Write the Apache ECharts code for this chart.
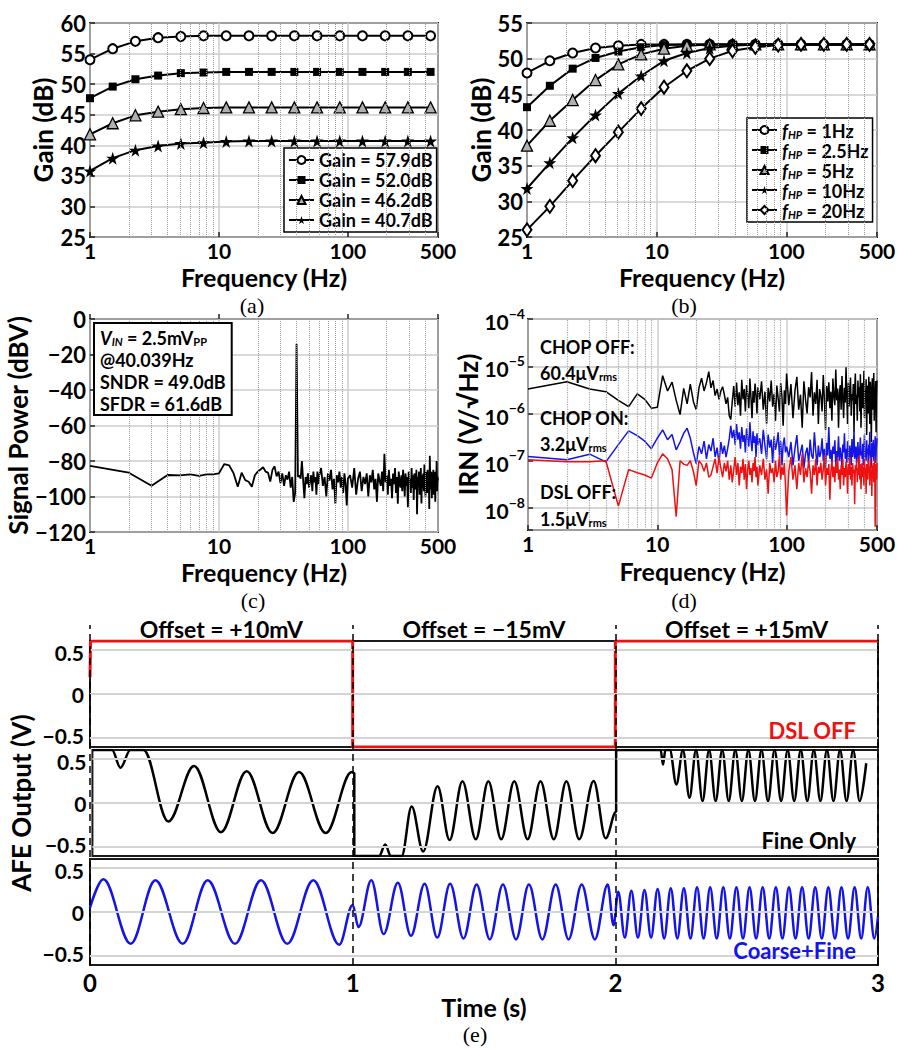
<!DOCTYPE html>
<html><head><meta charset="utf-8">
<script src="https://cdn.jsdelivr.net/npm/echarts@6/dist/echarts.min.js"></script>
<style>html,body{margin:0;padding:0;background:#fff}#c{width:908px;height:1050px}</style>
</head><body><div id="c"></div>
<script>
const FONT = 'Lato, "Open Sans", "Liberation Sans", sans-serif';
const SERIF = '"Liberation Serif", "DejaVu Serif", serif';
const BLUE = '#1414e8', RED = '#ee1111';

// ---------- (a) / (b): gain sweeps ----------
const sweepFreq = [1, 1.5, 2.25, 3.375, 5.063, 7.594, 11.39, 17.09, 25.63, 38.44, 57.67, 86.5, 129.7, 194.6, 291.9, 437.9];
const gain579 = [54.0, 55.8, 57.0, 57.6, 57.8, 57.9, 57.9, 57.9, 57.9, 57.9, 57.9, 57.9, 57.9, 57.9, 57.9, 57.9];
const gain520 = [47.7, 49.6, 50.8, 51.4, 51.8, 51.9, 52.0, 52.0, 52.0, 52.0, 52.0, 52.0, 52.0, 52.0, 52.0, 52.0];
const gain462 = [41.8, 43.6, 44.9, 45.5, 45.9, 46.1, 46.2, 46.2, 46.2, 46.2, 46.2, 46.2, 46.2, 46.2, 46.2, 46.2];
const gain407 = [35.8, 37.9, 39.2, 39.9, 40.3, 40.4, 40.6, 40.7, 40.7, 40.7, 40.7, 40.7, 40.7, 40.7, 40.7, 40.7];
const gainNames = ['Gain = 57.9dB', 'Gain = 52.0dB', 'Gain = 46.2dB', 'Gain = 40.7dB'];

const hp1  = [48.0, 49.7, 50.8, 51.5, 51.8, 52.0, 52.0, 52.0, 52.0, 52.0, 52.0, 52.0, 52.0, 52.0, 52.0, 52.0];
const hp25 = [43.2, 46.2, 48.6, 50.1, 51.0, 51.6, 51.9, 52.0, 52.0, 52.0, 52.0, 52.0, 52.0, 52.0, 52.0, 52.0];
const hp5  = [37.8, 41.3, 44.2, 47.0, 49.2, 50.6, 51.4, 51.8, 52.0, 52.0, 52.0, 52.0, 52.0, 52.0, 52.0, 52.0];
const hp10 = [31.8, 35.4, 38.9, 42.1, 45.1, 47.6, 49.7, 50.8, 51.5, 51.8, 52.0, 52.0, 52.0, 52.0, 52.0, 52.0];
const hp20 = [26.0, 29.3, 32.9, 36.4, 39.7, 43.0, 46.0, 48.3, 50.0, 51.1, 51.6, 51.9, 52.0, 52.0, 52.0, 52.0];
const hpNames = ['1Hz', '2.5Hz', '5Hz', '10Hz', '20Hz'];

// ---------- (c) / (d): spectra ----------
const fftFreq = [1,2,3,4,5,6,7,8,9,10,11,12,13,14,15,16,17,18,19,20,21,22,23,24,25,26,27,28,29,30,
31,32,33,34,35,36,37,38,39,40,41,42,43,44,45,46,47,48,49,50,51,52,53,54,55,56,57,58,59,60,
62,64,66,68,70,72,74,76,78,80,82,84,86,88,90,92,94,96,98,100,
104,108,112,116,120,124,128,132,136,140,144,148,152,156,160,164,168,172,176,180,
184,188,192,196,200,204,208,212,216,220,224,228,232,236,240,244,248,252,256,260,
264,268,272,276,280,284,288,292,296,300,304,308,312,316,320,324,328,332,336,340,
344,348,352,356,360,364,368,372,376,380,384,388,392,396,400,404,408,412,416,420,
424,428,432,436,440,444,448,452,456,460,464,468,472,476,480,484,488,492,496,500];

const spectrumDBV = [
-82.8,-86.6,-93.9,-87.9,-88.1,-87.5,-88.4,-87.5,-87.5,-87.0,
-81.7,-82.4,-87.0,-94.5,-86.6,-90.8,-91.7,-94.5,-88.0,-86.0,
-84.8,-83.5,-86.0,-86.5,-91.6,-85.0,-83.0,-88.7,-86.0,-92.5,
-87.0,-94.0,-88.0,-90.5,-86.0,-95.0,-89.0,-103.0,-98.0,-14.0,
-89.0,-88.0,-90.0,-80.0,-91.0,-101.0,-89.0,-93.0,-87.0,-95.0,
-91.0,-88.0,-97.0,-86.0,-92.0,-89.0,-99.0,-86.0,-93.0,-88.0,
-84,-94,-89,-100,-87,-91,-85,-96,-90,-104,-88,-92,-86,-95,-89,-98,-87,-93,-105,-90,
-88,-95,-84,-99,-90,-86,-97,-89,-93,-87,
-100,-88,-92,-85,-96,-90,-103,-87,-91,-94,
-86,-97,-76,-92,-88,-99,-85,-94,-90,-101,
-87,-93,-84,-98,-89,-104,-86,-92,-95,-88,
-97,-85,-91,-100,-87,-94,-89,-106,-86,-93,
-90,-98,-84,-95,-88,-102,-87,-92,-96,-85,
-110,-89,-93,-86,-99,-91,-84,-104,-88,-95,
-87,-97,-82,-93,-100,-86,-91,-98,-85,-94,
-89,-107,-77,-92,-96,-86,-101,-88,-93,-85,
-99,-90,-86,-103,-88,-94,-80,-97,-89,-91];

// input-referred noise, in uV/sqrt(Hz)
const irnChopOff = [
3.3,4.7,3.3,2.9,1.9,1.4,2.6,2.0,1.3,1.35,6.3,3.0,4.6,1.9,0.95,3.4,1.6,4.2,1.8,1.2,
3.5,5.6,3.0,4.5,7.7,3.5,5.0,2.4,3.3,2.0,3.0,3.7,2.5,1.6,2.2,0.9,0.75,1.8,3.8,1.4,
4.5,1.5,2.8,0.9,5.2,2.0,3.3,1.1,4.0,2.4,1.3,5.5,2.2,0.8,3.0,1.7,4.3,2.5,1.0,3.6,
2.0,4.8,1.2,2.9,0.6,3.5,1.8,5.0,1.4,2.6,0.7,3.9,2.1,1.1,4.4,2.3,0.55,3.1,1.6,7.0,
1.5,4.2,0.8,3.0,6.0,1.2,2.5,0.5,4.8,2.0,
1.0,3.6,2.2,7.5,0.9,2.8,1.6,5.2,0.6,3.3,
2.4,1.1,6.5,2.0,0.45,3.8,1.8,4.6,1.3,2.9,
0.7,5.5,2.3,1.5,8.5,1.9,3.4,0.5,2.7,4.0,
1.2,6.2,2.1,0.8,3.5,1.7,9.5,2.4,0.6,4.5,
1.4,3.0,5.8,0.9,2.6,1.9,4.2,0.4,3.1,7.0,
1.6,2.5,0.7,5.0,2.2,3.6,1.1,6.8,0.5,2.9,
4.4,1.3,2.0,8.0,0.8,3.2,1.8,5.3,0.35,2.6,
3.9,1.0,6.0,2.2,0.6,4.7,1.5,0.25,3.0,5.6,
1.2,2.8,7.2,0.7,3.5,1.9,4.9,0.4,2.4,5.0];
const irnChopOn = [
0.123,0.105,0.138,0.095,0.22,0.43,0.34,0.26,0.18,0.30,0.45,0.28,0.36,0.17,0.25,0.38,0.49,0.30,0.15,0.087,
0.20,0.14,0.26,0.11,0.22,0.16,0.30,0.12,0.19,0.09,0.25,0.14,0.21,0.12,0.18,0.29,0.55,0.30,0.45,0.22,
0.60,0.28,0.40,0.18,0.52,0.25,0.35,0.15,0.48,0.30,0.20,0.65,0.27,0.16,0.42,0.24,0.33,0.12,0.38,0.22,
0.30,0.14,0.45,0.21,0.11,0.36,0.19,0.28,0.09,0.33,0.17,0.24,0.40,0.13,0.26,0.08,0.22,0.31,0.15,0.20,
0.12,0.25,0.08,0.18,0.35,0.10,0.15,0.22,0.07,0.14,
0.19,0.09,0.28,0.13,0.11,0.40,0.16,0.08,0.21,0.12,
0.15,0.30,0.10,0.18,0.07,0.24,0.13,0.52,0.11,0.17,
0.09,0.20,0.14,0.27,0.08,0.16,0.12,0.33,0.10,0.19,
0.13,0.07,0.22,0.15,0.38,0.11,0.18,0.09,0.26,0.14,
0.10,0.21,0.16,0.08,0.29,0.12,0.17,0.45,0.11,0.15,
0.20,0.09,0.14,0.25,0.12,0.07,0.18,0.31,0.13,0.16,
0.11,0.23,0.08,0.17,0.36,0.12,0.15,0.10,0.27,0.14,
0.18,0.09,0.22,0.13,0.41,0.11,0.16,0.07,0.24,0.15,
0.12,0.28,0.10,0.19,0.14,0.33,0.09,0.17,0.22,0.30];
const irnDslOff = [
0.105,0.095,0.095,0.10,0.011,0.065,0.056,0.050,0.043,0.09,0.14,0.11,0.065,0.0066,0.10,0.085,0.08,0.10,0.06,0.03,
0.10,0.085,0.06,0.09,0.045,0.05,0.075,0.11,0.055,0.12,0.07,0.045,0.09,0.06,0.10,0.04,0.08,0.035,0.065,0.12,
0.05,0.09,0.03,0.075,0.055,0.11,0.04,0.085,0.025,0.065,0.10,0.05,0.07,0.035,0.09,0.06,0.12,0.045,0.075,0.03,
0.08,0.05,0.11,0.04,0.065,0.02,0.09,0.055,0.07,0.035,0.10,0.045,0.06,0.13,0.04,0.075,0.05,0.09,0.03,0.007,
0.06,0.12,0.04,0.08,0.025,0.09,0.05,0.14,0.035,0.07,
0.045,0.10,0.06,0.02,0.08,0.05,0.11,0.03,0.075,0.055,
0.09,0.04,0.065,0.13,0.03,0.07,0.05,0.085,0.015,0.06,
0.10,0.045,0.075,0.035,0.09,0.055,0.12,0.04,0.065,0.025,
0.08,0.05,0.11,0.03,0.07,0.045,0.095,0.06,0.02,0.085,
0.05,0.12,0.04,0.075,0.03,0.09,0.055,0.065,0.012,0.08,
0.06,0.10,0.035,0.07,0.05,0.13,0.04,0.085,0.025,0.065,
0.09,0.045,0.075,0.03,0.11,0.05,0.07,0.02,0.085,0.06,
0.04,0.10,0.055,0.075,0.03,0.12,0.045,0.065,0.018,0.08,
0.05,0.09,0.035,0.07,0.11,0.004,0.06,0.085,0.04,0.09];

// ---------- (e): transient outputs (extrema / breakpoints) ----------
const tDslOff = [0, 0.002, 1.0, 1.0, 2.0, 2.0, 3.0];
const vDslOff = [0.19, 0.6, 0.6, -0.6, -0.6, 0.6, 0.6];
const tFineOnly = [0,0.075,0.107,0.145,0.195,0.290,0.388,0.491,0.589,0.688,0.789,0.891,0.99,1.0,
1.0,1.095,1.118,1.14,1.181,1.219,1.263,1.318,1.364,1.413,1.464,1.512,1.561,1.611,1.662,1.711,1.762,1.810,1.859,1.914,1.960,2.0,
2.0,2.170,2.179,2.188,2.205,2.230,2.255,2.280,2.305,2.330,2.355,2.380,2.405,2.430,2.455,2.480,2.505,2.530,2.555,2.580,2.605,2.630,
2.655,2.680,2.705,2.730,2.755,2.780,2.805,2.830,2.855,2.880,2.905,2.930,2.955,2.980,3.0];
const vFineOnly = [0.6,0.6,0.40,0.6,0.6,-0.21,0.42,-0.33,0.36,-0.34,0.35,-0.34,0.35,0.34,
-0.6,-0.6,-0.47,-0.6,-0.6,-0.04,-0.55,0.19,-0.42,0.245,-0.41,0.245,-0.41,0.245,-0.41,0.245,-0.41,0.245,-0.41,0.25,-0.40,-0.1,
0.6,0.6,0.435,0.6,0.6,0.21,0.6,0.06,0.6,0.02,0.6,0.02,0.6,0.02,0.6,0.02,0.6,0.02,0.6,0.02,0.6,0.02,
0.6,0.02,0.6,0.02,0.6,0.02,0.6,0.02,0.6,0.02,0.6,0.02,0.45];
const tCoarseFine = [0,0.051,0.155,0.249,0.353,0.448,0.552,0.651,0.751,0.850,0.949,1.0,1.022,
1.071,1.118,1.172,1.222,1.274,1.322,1.371,1.422,1.472,1.522,1.572,1.622,1.671,1.722,1.773,1.822,1.872,1.922,1.971,1.993,
2.011,2.036,2.061,2.086,2.111,2.136,2.161,2.186,2.211,2.236,2.261,2.286,2.311,2.336,2.361,2.386,2.411,2.436,2.461,2.486,
2.511,2.536,2.561,2.586,2.611,2.636,2.661,2.686,2.711,2.736,2.761,2.786,2.811,2.836,2.861,2.886,2.911,2.936,2.961,2.986,3.0];
const vCoarseFine = [0.05,0.37,-0.36,0.36,-0.36,0.36,-0.36,0.36,-0.36,0.36,-0.37,0.08,-0.17,
0.36,-0.25,0.33,-0.27,0.32,-0.29,0.32,-0.30,0.31,-0.31,0.31,-0.31,0.31,-0.31,0.31,-0.31,0.31,-0.31,0.31,-0.15,
0.23,-0.29,0.24,-0.29,0.25,-0.29,0.26,-0.30,0.27,-0.30,0.27,-0.30,0.28,-0.30,0.28,-0.30,0.28,-0.30,0.28,-0.30,
0.28,-0.30,0.28,-0.30,0.28,-0.30,0.28,-0.30,0.28,-0.30,0.28,-0.30,0.28,-0.30,0.28,-0.30,0.28,-0.30,0.28,-0.30,-0.05];
const eSegLabels = ['Offset = +10mV', 'Offset = \u221215mV', 'Offset = +15mV'];
const eSegCenters = [0.5, 1.5, 2.5];
const eBoundaries = [0, 1, 2, 3];

// tick helpers
const minorFreq = [2,3,4,5,6,7,8,9,20,30,40,50,60,70,80,90,200,300,400];
const irnDecades = [1e-9, 1e-8, 1e-7, 1e-6, 1e-5];
const minorMult = [2,3,4,5,6,7,8,9];
const eGridVals = [-0.5, 0, 0.5];

// ---------------- build ----------------
const bold = (size, extra) => Object.assign({fontFamily: FONT, fontWeight: 'bold', fontSize: size, color: '#000'}, extra || {});
const minus = v => (v < 0 ? '\u2212' + (-v) : String(v));
const zip = (xs, ys, k) => xs.map((x, i) => [x, ys[i] * (k || 1)]);

const grids = [
  {left: 90, top: 23, width: 348, height: 214},
  {left: 527, top: 23, width: 350, height: 214},
  {left: 90, top: 319, width: 348, height: 213},
  {left: 528, top: 319, width: 349, height: 211},
  {left: 90, top: 641, width: 788, height: 106},
  {left: 90, top: 750, width: 788, height: 106},
  {left: 90, top: 859, width: 788, height: 106},
  {left: 90, top: 625, width: 788, height: 340, show: false}
].map(g => Object.assign({show: true, borderColor: '#1a1a1a', borderWidth: 2, containLabel: false}, g));

function logX(gi, gap) {
  return {
    type: 'log', logBase: 10, min: 1, max: 500, gridIndex: gi,
    axisLine: {show: false},
    axisTick: {show: true, inside: true, length: 5, lineStyle: {color: '#222', width: 1.5}},
    axisLabel: Object.assign(bold(21, {lineHeight: 18}), {margin: 4, formatter: v => String(Math.round(v))}),
    splitLine: {show: true, lineStyle: {color: '#cccccc', width: 1.5}},
    minorTick: {show: false},
    name: 'Frequency (Hz)', nameLocation: 'middle', nameGap: gap,
    nameTextStyle: bold(25, {lineHeight: 22})
  };
}
function valY(gi, min, max, interval, name, gap) {
  return {
    type: 'value', gridIndex: gi, min: min, max: max, interval: interval,
    axisLine: {show: false},
    axisTick: {show: true, inside: true, length: 5, lineStyle: {color: '#222', width: 1.5}},
    axisLabel: Object.assign(bold(22), {margin: 4, formatter: minus}),
    splitLine: {show: true, lineStyle: {color: '#cccccc', width: 1.5}},
    name: name, nameLocation: 'middle', nameGap: gap, nameRotate: 90,
    nameTextStyle: bold(26)
  };
}
function eX(gi, showLabels) {
  return {
    type: 'value', gridIndex: gi, min: 0, max: 3, interval: 1,
    axisLine: {show: false}, axisTick: {show: false}, splitLine: {show: false},
    axisLabel: Object.assign(bold(24), {show: showLabels, margin: 5}),
    name: showLabels ? 'Time (s)' : '', nameLocation: 'middle', nameGap: 22,
    nameTextStyle: bold(25, {lineHeight: 22})
  };
}
function eY(gi, name) {
  return {
    type: 'value', gridIndex: gi, min: -0.6, max: 0.6, interval: 0.1,
    axisLine: {show: false}, axisTick: {show: false}, splitLine: {show: false},
    axisLabel: {margin: 6, formatter: v => {
      const r = Math.round(v * 10) / 10;
      if (r === 0.5) return '{hi|0.5}';
      if (r === 0) return '{m|0}';
      if (r === -0.5) return '{lo|\u22120.5}';
      return '';
    }, rich: {
      hi: bold(21, {lineHeight: 18, padding: [5, 0, 0, 0]}),
      m: bold(21, {lineHeight: 18}),
      lo: bold(21, {lineHeight: 18, padding: [0, 0, 5, 0]})
    }},
    name: name || '', nameLocation: 'middle', nameGap: 52, nameRotate: 90,
    nameTextStyle: bold(26)
  };
}

const xAxes = [
  logX(0, 29), logX(1, 29), logX(2, 29), logX(3, 30),
  eX(4, false), eX(5, false), eX(6, true),
  {type: 'value', gridIndex: 7, min: 0, max: 3, show: false}
];
const irnY = {
  type: 'log', logBase: 10, gridIndex: 3, min: 3.43e-9, max: 1e-4,
  axisLine: {show: false},
  axisTick: {show: true, inside: true, length: 5, lineStyle: {color: '#222', width: 1.5}},
  axisLabel: {margin: 3, formatter: v => {
    const e = Math.log10(v), n = Math.round(e);
    if (Math.abs(e - n) > 0.02) return '';
    return '{b|10}{p|\u2212' + Math.abs(n) + '}';
  }, rich: {
    b: bold(21, {verticalAlign: 'bottom', lineHeight: 26}),
    p: bold(14, {verticalAlign: 'top', lineHeight: 14})
  }},
  splitLine: {show: true, lineStyle: {color: '#c8c8c8', width: 1.5}},
  name: 'IRN (V/\u221AHz)', nameLocation: 'middle', nameGap: 44, nameRotate: 90,
  nameTextStyle: bold(26)
};
const yAxes = [
  valY(0, 25, 60, 5, 'Gain (dB)', 34),
  valY(1, 25, 55, 5, 'Gain (dB)', 22),
  valY(2, -120, 0, 20, 'Signal Power (dBV)', 50),
  irnY,
  eY(4), eY(5, 'AFE Output (V)'), eY(6),
  {type: 'value', gridIndex: 7, min: 0, max: 1, show: false}
];

function helperLines(ai, xs, ys, style, z) {
  return {
    type: 'line', xAxisIndex: ai, yAxisIndex: ai, data: [], z: z || 1, silent: true,
    markLine: {
      silent: true, symbol: 'none', animation: false, label: {show: false},
      lineStyle: style,
      data: xs.map(v => ({xAxis: v})).concat(ys.map(v => ({yAxis: v})))
    }
  };
}
const irnMinor = [];
irnDecades.forEach(d => minorMult.forEach(m => { if (d * m > 3.43e-9) irnMinor.push(d * m); }));

const STAR = 'path://M50,0 L61,35 L98,35 L68,57 L79,91 L50,70 L21,91 L32,57 L2,35 L39,35 Z';
const markerDefs = [
  {symbol: 'emptyCircle', symbolSize: 9, itemStyle: {color: '#000', borderWidth: 1.5}},
  {symbol: 'rect', symbolSize: 8, itemStyle: {color: '#000'}},
  {symbol: 'triangle', symbolSize: 11, itemStyle: {color: '#b0b0b0', borderColor: '#000', borderWidth: 1.3}},
  {symbol: STAR, symbolSize: 13, itemStyle: {color: '#000'}},
  {symbol: 'emptyDiamond', symbolSize: [9, 13], itemStyle: {color: '#000', borderWidth: 1.5}}
];
function markerSeries(ai, name, ys, mi) {
  return Object.assign({
    type: 'line', name: name, xAxisIndex: ai, yAxisIndex: ai,
    data: zip(sweepFreq, ys), z: 3, showAllSymbol: true,
    lineStyle: {color: '#000', width: 2}
  }, markerDefs[mi]);
}

const series = [
  helperLines(0, minorFreq, [], {type: 'dotted', color: '#9a9a9a', width: 1}),
  helperLines(1, minorFreq, [], {type: 'dotted', color: '#9a9a9a', width: 1}),
  helperLines(2, minorFreq, [], {type: 'dotted', color: '#9a9a9a', width: 1}),
  helperLines(3, minorFreq, irnMinor, {type: 'dotted', color: '#a6a6a6', width: 1.2}),
  helperLines(4, [], eGridVals, {type: 'solid', color: '#d4d4d4', width: 2}),
  helperLines(5, [], eGridVals, {type: 'solid', color: '#d4d4d4', width: 2}),
  helperLines(6, [], eGridVals, {type: 'solid', color: '#d4d4d4', width: 2}),
  markerSeries(0, gainNames[0], gain579, 0),
  markerSeries(0, gainNames[1], gain520, 1),
  markerSeries(0, gainNames[2], gain462, 2),
  markerSeries(0, gainNames[3], gain407, 3),
  markerSeries(1, hpNames[0], hp1, 0),
  markerSeries(1, hpNames[1], hp25, 1),
  markerSeries(1, hpNames[2], hp5, 2),
  markerSeries(1, hpNames[3], hp10, 3),
  markerSeries(1, hpNames[4], hp20, 4),
  {type: 'line', xAxisIndex: 2, yAxisIndex: 2, data: zip(fftFreq, spectrumDBV), showSymbol: false,
   lineStyle: {color: '#000', width: 1.8}, z: 3},
  {type: 'line', xAxisIndex: 3, yAxisIndex: 3, data: zip(fftFreq, irnChopOff, 1e-6), showSymbol: false,
   lineStyle: {color: '#000', width: 1.5}, z: 3},
  {type: 'line', xAxisIndex: 3, yAxisIndex: 3, data: zip(fftFreq, irnChopOn, 1e-6), showSymbol: false,
   lineStyle: {color: BLUE, width: 1.5}, z: 4},
  {type: 'line', xAxisIndex: 3, yAxisIndex: 3, data: zip(fftFreq, irnDslOff, 1e-6), showSymbol: false,
   lineStyle: {color: RED, width: 1.5}, z: 5},
  {type: 'line', xAxisIndex: 4, yAxisIndex: 4, data: zip(tDslOff, vDslOff), showSymbol: false,
   lineStyle: {color: RED, width: 3}, z: 3},
  {type: 'line', xAxisIndex: 5, yAxisIndex: 5, data: zip(tFineOnly, vFineOnly), showSymbol: false,
   smooth: 0.36, smoothMonotone: 'x', lineStyle: {color: '#000', width: 2.5}, z: 3},
  {type: 'line', xAxisIndex: 6, yAxisIndex: 6, data: zip(tCoarseFine, vCoarseFine), showSymbol: false,
   smooth: 0.36, smoothMonotone: 'x', lineStyle: {color: BLUE, width: 2.5}, z: 3},
  helperLines(7, eBoundaries, [], {type: [7, 5], color: '#000', width: 1.5}, 10)
];

const legendBase = {
  orient: 'vertical', itemWidth: 25, itemHeight: 10, itemGap: 0,
  padding: [2, 4, 2, 4], borderColor: '#000', borderWidth: 1.5, backgroundColor: '#fff',
  selectedMode: false, textStyle: bold(18, {lineHeight: 20})
};
const legends = [
  Object.assign({}, legendBase, {left: 284, top: 148, data: gainNames}),
  Object.assign({}, legendBase, {left: 747, top: 118, data: hpNames,
    formatter: n => '{i|f}{s|HP}{t| = ' + n + '}',
    textStyle: bold(18, {lineHeight: 20, rich: {
      i: bold(18, {fontStyle: 'italic', verticalAlign: 'bottom', lineHeight: 20}),
      s: bold(11, {fontStyle: 'italic', verticalAlign: 'bottom', lineHeight: 11}),
      t: bold(18, {verticalAlign: 'bottom', lineHeight: 20})
    }})})
];

const chart = echarts.init(document.getElementById('c'), null, {renderer: 'svg'});
chart.setOption({
  animation: false, backgroundColor: '#fff',
  grid: grids, xAxis: xAxes, yAxis: yAxes, legend: legends, series: series
});

// ---------- annotations ----------
const subRich = c => ({
  b: bold(18, {color: c, verticalAlign: 'bottom', lineHeight: 22}),
  bi: bold(18, {color: c, fontStyle: 'italic', verticalAlign: 'bottom', lineHeight: 22}),
  s: bold(11, {color: c, verticalAlign: 'bottom', lineHeight: 11}),
  si: bold(11, {color: c, fontStyle: 'italic', verticalAlign: 'bottom', lineHeight: 11})
});
function txt(x, y, text, opts) {
  return {type: 'text', x: x, y: y, z: 50, style: Object.assign({
    text: text, fontFamily: FONT, fontWeight: 'bold', fontSize: 18, fill: '#000',
    align: 'left', verticalAlign: 'middle'}, opts || {})};
}
const serifSub = {fontFamily: SERIF, fontWeight: 'normal', fontSize: 22, align: 'center'};
const graphics = [
  txt(252, 305, '(a)', serifSub),
  txt(684, 305, '(b)', serifSub),
  txt(253, 600, '(c)', serifSub),
  txt(684, 600, '(d)', serifSub),
  txt(475, 1034, '(e)', serifSub),
  txt(95, 324, '{bi|V}{si|IN}{b| = 2.5mV}{s|PP}\n{b|@40.039Hz}\n{b|SNDR = 49.0dB}\n{b|SFDR = 61.6dB}',
      {verticalAlign: 'top', rich: subRich('#000'), borderColor: '#000', borderWidth: 2,
       padding: [1, 5, 1, 5], backgroundColor: '#fff'}),
  txt(540, 345, '{b|CHOP OFF:}', {rich: subRich('#000')}),
  txt(540, 371, '{b|60.4\u03BCV}{s|rms}', {rich: subRich('#000')}),
  txt(540, 416, '{b|CHOP ON:}', {rich: subRich(BLUE)}),
  txt(540, 442, '{b|3.2\u03BCV}{s|rms}', {rich: subRich(BLUE)}),
  txt(540, 490, '{b|DSL OFF:}', {rich: subRich(RED)}),
  txt(540, 517, '{b|1.5\u03BCV}{s|rms}', {rich: subRich(RED)}),
  txt(856, 730, 'DSL OFF', {fontSize: 22, fill: RED, align: 'right'}),
  txt(856, 840, 'Fine Only', {fontSize: 22, fill: '#000', align: 'right'}),
  txt(856, 950, 'Coarse+Fine', {fontSize: 22, fill: BLUE, align: 'right'})
];
eSegCenters.forEach((t, i) => {
  const p = chart.convertToPixel({gridIndex: 7}, [t, 1]);
  graphics.push(txt(p[0], p[1] + 4, eSegLabels[i], {fontSize: 23, align: 'center'}));
});
chart.setOption({graphic: graphics});
</script></body></html>
